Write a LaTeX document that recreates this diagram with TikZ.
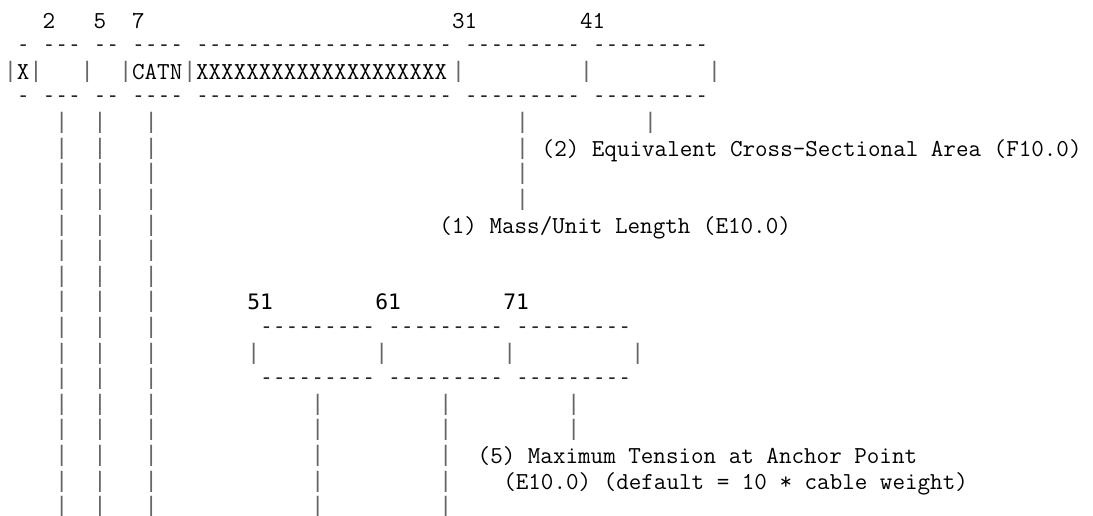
\documentclass[tikz,border=0pt]{standalone}
\usepackage{fontspec}
\newfontfamily\djm{DejaVu Sans Mono}
\def\axX{4.1}\def\axW{12.8}\def\axY{28.3}\def\axH{25.6}
\newcommand\acell[4]{\node[#3] (r#1c#2) at ({\axX+\axW*(#2)},{\axY+\axH*(#1)}) {#4};}
\newcommand\adash[1]{\foreach \k in {1,...,#1}{-\kern0pt}}
\tikzset{
  gbase/.style={anchor=base west, inner sep=0pt, outer sep=0pt},
  tt/.style={gbase, font=\ttfamily\fontsize{24.38}{28}\selectfont},
  dj/.style={gbase, font=\djm\fontsize{21.26}{28}\selectfont},
  pipe/.style={dj, text=black!60, yshift=2pt},
  dsh/.style={dj, text=black!85, yshift=2.5pt},
}
\begin{document}
\begin{tikzpicture}[x=1pt,y=-1pt]
\useasboundingbox (0,0) rectangle (1093,515);
% row 0: column numbers
\acell{0}{3}{tt}{2}
\acell{0}{7}{tt}{5}
\acell{0}{10}{tt}{7}
\acell{0}{35}{tt}{31}
\acell{0}{45}{tt}{41}
% rows 1 and 3: dashes
\foreach \r in {1,3}{
  \acell{\r}{1}{dsh}{\adash{1}}
  \acell{\r}{3}{dsh}{\adash{3}}
  \acell{\r}{7}{dsh}{\adash{2}}
  \acell{\r}{10}{dsh}{\adash{4}}
  \acell{\r}{15}{dsh}{\adash{20}}
  \acell{\r}{36}{dsh}{\adash{9}}
  \acell{\r}{46}{dsh}{\adash{9}}
}
% row 2: fields
\foreach \c in {0,2,6,9,14,35,45,55}{\acell{2}{\c}{pipe}{|}}
\acell{2}{1}{tt}{X}
\acell{2}{10}{tt}{CATN}
\acell{2}{15}{tt}{XXXXXXXXXXXXXXXXXXXX}
% left vertical lines
\foreach \r in {4,...,19}{
  \acell{\r}{4}{pipe}{|}
  \acell{\r}{7}{pipe}{|}
  \acell{\r}{11}{pipe}{|}
}
% upper right leaders
\acell{4}{40}{pipe}{|}
\acell{4}{50}{pipe}{|}
\foreach \r in {5,6,7}{\acell{\r}{40}{pipe}{|}}
\acell{5}{42}{tt}{(2) Equivalent Cross-Sectional Area (F10.0)}
\acell{8}{34}{tt}{(1) Mass/Unit Length (E10.0)}
% lower card
\acell{11}{19}{dj}{51}
\acell{11}{29}{dj}{61}
\acell{11}{39}{dj}{71}
\foreach \r in {12,14}{
  \acell{\r}{20}{dsh}{\adash{9}}
  \acell{\r}{30}{dsh}{\adash{9}}
  \acell{\r}{40}{dsh}{\adash{9}}
}
\foreach \c in {19,29,39,49}{\acell{13}{\c}{pipe}{|}}
\foreach \r in {15,16}{
  \acell{\r}{24}{pipe}{|}
  \acell{\r}{34}{pipe}{|}
  \acell{\r}{44}{pipe}{|}
}
\foreach \r in {17,18,19}{
  \acell{\r}{24}{pipe}{|}
  \acell{\r}{34}{pipe}{|}
}
\acell{17}{37}{tt}{(5) Maximum Tension at Anchor Point}
\acell{18}{39}{tt}{(E10.0) (default = 10 * cable weight)}
\end{tikzpicture}
\end{document}
